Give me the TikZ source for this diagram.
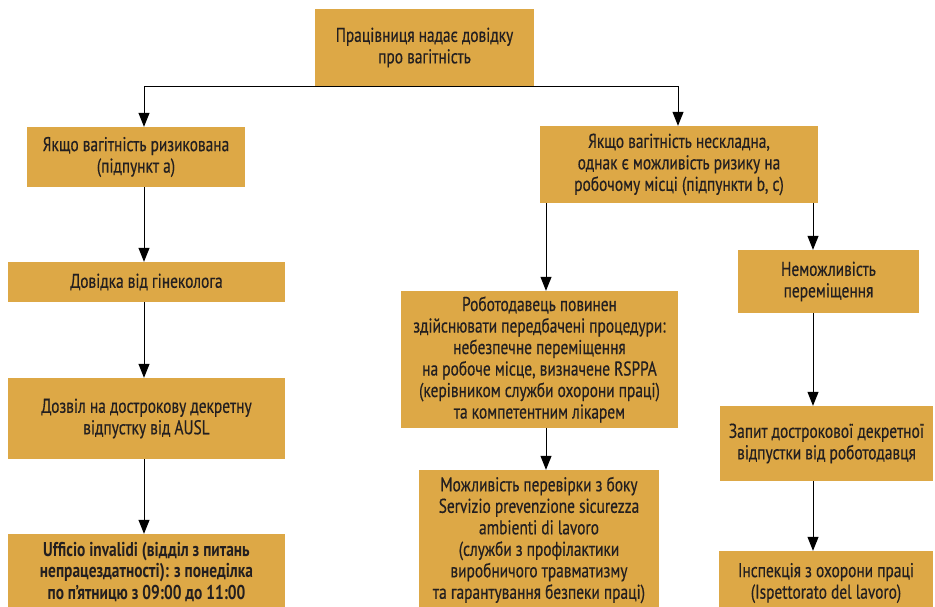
\documentclass[tikz,border=0pt]{standalone}
\usepackage{fontspec}
\setmainfont[FakeStretch=0.77, UprightFeatures={FakeBold=0.4}]{PT Sans}
\usetikzlibrary{arrows.meta}
\definecolor{boxfill}{RGB}{221,168,70}
\definecolor{ink}{RGB}{35,31,32}
\tikzset{
  box/.style={fill=boxfill, draw=none, align=center, inner sep=0pt, text=ink,
    font=\fontsize{20}{21.5}\selectfont},
  arr/.style={draw=black, line width=1pt, -{Triangle[length=14pt,width=11pt]}}
}
\begin{document}
\begin{tikzpicture}[x=1pt,y=-1pt]
\useasboundingbox (0,0) rectangle (935,606);
% boxes
\node[box, minimum width=219pt, minimum height=77pt] (top) at (424.5,47.5) {Працівниця надає довідку\\про вагітність};
\node[box, minimum width=218pt, minimum height=60pt] (L1) at (136,157) {Якщо вагітність ризикована\\(підпункт а)};
\node[box, minimum width=277pt, minimum height=40pt] (L2) at (146.5,282) {Довідка від гінеколога};
\node[box, minimum width=277pt, minimum height=81pt] (L3) at (146.5,418.5) {Дозвіл на дострокову декретну\\відпустку від AUSL};
\node[box, minimum width=277pt, minimum height=76pt, font=\fontsize{20}{21.5}\selectfont\bfseries] (L4) at (146.5,572) {Ufficio invalidi (відділ з питань\\непрацездатності): з понеділка\\по п'ятницю з 09:00 до 11:00};
\node[box, minimum width=278pt, minimum height=77pt] (R1) at (679,164.5) {Якщо вагітність нескладна,\\однак є можливість ризику на\\робочому місці (підпункти b, c)};
\node[box, minimum width=277pt, minimum height=137pt] (M1) at (539.5,359.5) {Роботодавець повинен\\здійснювати передбачені процедури:\\небезпечне переміщення\\на робоче місце, визначене RSPPA\\(керівником служби охорони праці)\\та компетентним лікарем};
\node[box, minimum width=240pt, minimum height=140pt] (M2) at (539,540) {Можливість перевірки з боку\\Servizio prevenzione sicurezza\\ambienti di lavoro\\(служби з профілактики\\виробничого травматизму\\та гарантування безпеки праці)};
\node[box, minimum width=181pt, minimum height=63pt] (N) at (828.5,281.5) {Неможливість\\переміщення};
\node[box, minimum width=213pt, minimum height=75pt] (Z) at (826.5,443.5) {Запит дострокової декретної\\відпустки від роботодавця};
\node[box, minimum width=214pt, minimum height=64pt] (I) at (826,583) {Інспекція з охорони праці\\(Ispettorato del lavoro)};
% column coordinates
\coordinate (cL) at (144,0);
\coordinate (cM) at (546,0);
\coordinate (cR) at (813,0);
\coordinate (cT) at (678,0);
% connectors
\draw[arr] (top.south) -| (L1.north -| cL);
\draw[arr] (top.south) -| (R1.north -| cT);
\draw[arr] (L1.south -| cL) -- (L2.north -| cL);
\draw[arr] (L2.south -| cL) -- (L3.north -| cL);
\draw[arr] (L3.south -| cL) -- (L4.north -| cL);
\draw[arr] (R1.south -| cM) -- (M1.north -| cM);
\draw[arr] (M1.south -| cM) -- (M2.north -| cM);
\draw[arr] (R1.south -| cR) -- (N.north -| cR);
\draw[arr] (N.south -| cR) -- (Z.north -| cR);
\draw[arr] (Z.south -| cR) -- (I.north -| cR);
\end{tikzpicture}
\end{document}
